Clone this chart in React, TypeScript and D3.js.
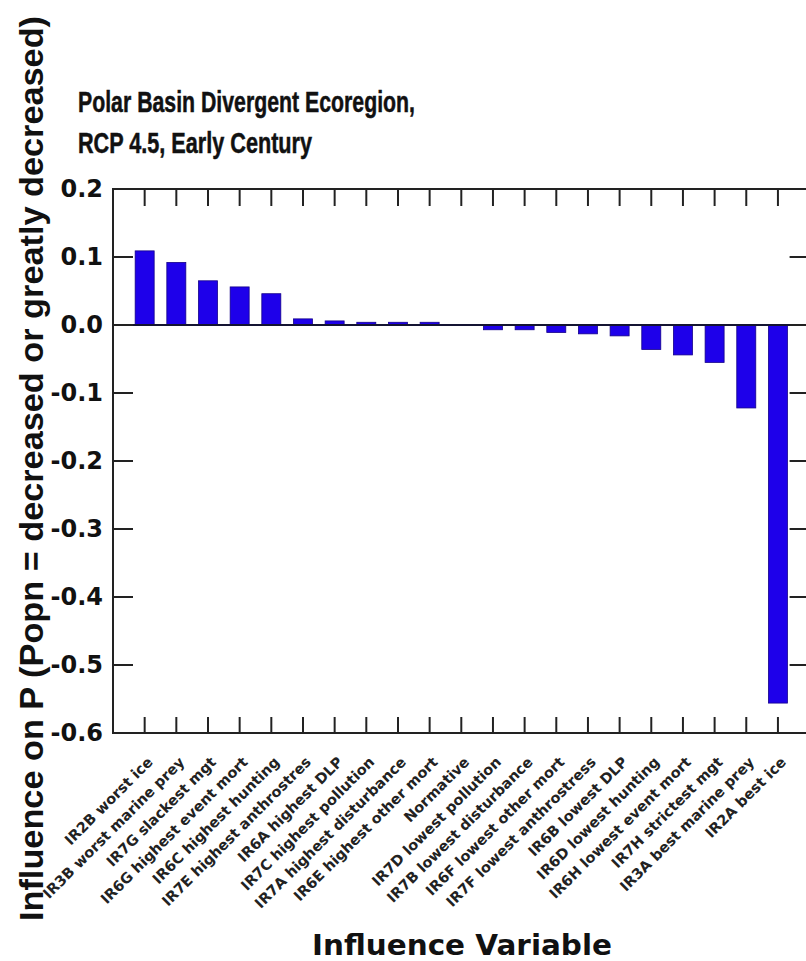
import React from "react";
import * as d3 from "d3";

const categories = [
  "IR2B worst ice",
  "IR3B worst marine prey",
  "IR7G slackest mgt",
  "IR6G highest event mort",
  "IR6C highest hunting",
  "IR7E highest anthrostres",
  "IR6A highest DLP",
  "IR7C highest pollution",
  "IR7A highest disturbance",
  "IR6E highest other mort",
  "Normative",
  "IR7D lowest pollution",
  "IR7B lowest disturbance",
  "IR6F lowest other mort",
  "IR7F lowest anthrostress",
  "IR6B lowest DLP",
  "IR6D lowest hunting",
  "IR6H lowest event mort",
  "IR7H strictest mgt",
  "IR3A best marine prey",
  "IR2A best ice",
];

const values = [
  0.109, 0.092, 0.065, 0.056, 0.046, 0.009, 0.006, 0.004, 0.004, 0.004, 0.0,
  -0.007, -0.007, -0.011, -0.013, -0.016, -0.036, -0.044, -0.055, -0.122, -0.556,
];

const yTicks = [0.2, 0.1, 0.0, -0.1, -0.2, -0.3, -0.4, -0.5, -0.6];

const titleLines = ["Polar Basin Divergent Ecoregion,", "RCP 4.5, Early Century"];
const xTitle = "Influence Variable";
const yTitle = "Influence on P (Popn = decreased or greatly decreased)";

export default function App() {
  const W = 806;
  const H = 961;
  const left = 113;
  const right = 809.6;
  const top = 189;
  const bottom = 733;

  const x = d3.scaleLinear().domain([0, categories.length + 1]).range([left, right]);
  const y = d3.scaleLinear().domain([-0.6, 0.2]).range([bottom, top]);
  const barW = 19;
  const axisColor = "#222";

  return (
    <svg
      width={W}
      height={H}
      style={{ position: "absolute", left: 0, top: 0, background: "#fff" }}
      fontFamily="'Liberation Sans', Arial, sans-serif"
    >
      <rect x={0} y={0} width={W} height={H} fill="#fff" />
      {/* Title */}
      <text x={78} y={112} fontSize={29} fontWeight="bold" textLength={337} lengthAdjust="spacingAndGlyphs" fill="#111" stroke="#111" strokeWidth={0.5}>
        {titleLines[0]}
      </text>
      <text x={78} y={153} fontSize={29} fontWeight="bold" textLength={234} lengthAdjust="spacingAndGlyphs" fill="#111" stroke="#111" strokeWidth={0.5}>
        {titleLines[1]}
      </text>

      {/* Y axis title */}
      <text
        transform={`translate(43, 921) rotate(-90)`}
        fontSize={34}
        fontWeight="bold"
        textLength={905}
        lengthAdjust="spacingAndGlyphs"
        fill="#111"
      >
        {yTitle}
      </text>

      {/* bars */}
      {values.map((v, i) => {
        const cx = x(i + 1);
        const y0 = y(0);
        const yv = y(v);
        return (
          <rect
            key={i}
            x={cx - barW / 2}
            y={Math.min(y0, yv)}
            width={barW}
            height={Math.abs(yv - y0)}
            fill="#1e00ea"
            stroke="#14008a"
            strokeWidth={0.8}
          />
        );
      })}

      {/* zero line */}
      <line x1={left} x2={right} y1={y(0)} y2={y(0)} stroke="#141432" strokeWidth={2} />

      {/* Y ticks */}
      {yTicks.map((t) => (
        <g key={t}>
          <line x1={left} x2={left + 20} y1={y(t)} y2={y(t)} stroke={axisColor} strokeWidth={2} />
          <line x1={right - 20} x2={right} y1={y(t)} y2={y(t)} stroke={axisColor} strokeWidth={2} />
          <text
            x={103}
            y={y(t)}
            textAnchor="end"
            dominantBaseline="central"
            fontFamily="'DejaVu Sans', Verdana, sans-serif"
            fontWeight="bold"
            fontSize={24}
            fill="#111"
          >
            {d3.format(".1f")(t).replace("−", "-")}
          </text>
        </g>
      ))}

      {/* X ticks and labels */}
      {categories.map((c, i) => {
        const cx = x(i + 1);
        return (
          <g key={c}>
            <line x1={cx} x2={cx} y1={top} y2={top + 17} stroke={axisColor} strokeWidth={2} />
            <line x1={cx} x2={cx} y1={bottom} y2={bottom - 16} stroke={axisColor} strokeWidth={2} />
            <text
              transform={`translate(${cx + 9}, 763) rotate(-45)`}
              textAnchor="end"
              fontFamily="'DejaVu Sans', Verdana, sans-serif"
              fontWeight="bold"
              fontSize={14.5}
              fill="#222"
            >
              {c}
            </text>
          </g>
        );
      })}

      {/* frame */}
      <rect x={left} y={top} width={right - left} height={bottom - top} fill="none" stroke={axisColor} strokeWidth={2} />

      {/* X title */}
      <text
        x={312}
        y={955}
        fontFamily="'DejaVu Sans', Verdana, sans-serif"
        fontWeight="bold"
        fontSize={29}
        textLength={300}
        lengthAdjust="spacingAndGlyphs"
        fill="#111"
      >
        {xTitle}
      </text>
    </svg>
  );
}
